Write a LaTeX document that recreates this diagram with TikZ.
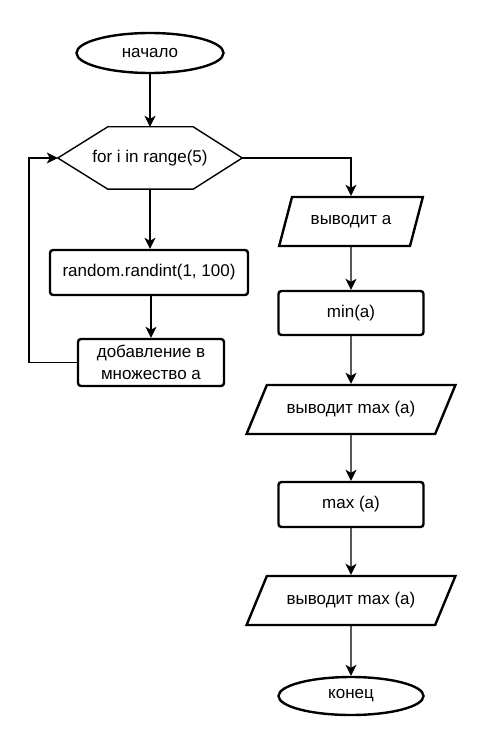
\documentclass[tikz,border=0pt]{standalone}
\usepackage{fontspec}
\setmainfont{Liberation Sans}
\usetikzlibrary{shapes.geometric,arrows.meta,calc}
\begin{document}
\begin{tikzpicture}[x=1pt,y=-1pt,
  every node/.style={font=\fontsize{17}{21.5}\selectfont, inner sep=0pt, align=center},
  term/.style={draw, line width=2.4pt, ellipse, minimum width=147pt, minimum height=40pt},
  proc/.style={draw, line width=2.4pt, rounded corners=3pt, minimum width=#1, minimum height=45pt},
  io/.style={draw, line width=2.4pt, trapezium, trapezium stretches=true,
     trapezium left angle=#1, trapezium right angle=180-#1, minimum height=49pt},
  arr/.style={line width=1.3pt, -{Stealth[length=11pt,width=11pt,inset=3pt]}},
  hexline/.style={line width=1.4pt}
]
\useasboundingbox (0,0) rectangle (485,735);
\node[term] (start) at (150,53) {начало};
\node[minimum width=184pt, minimum height=62pt] (hex) at (150,158) {for i in range(5)};
\draw[hexline] (hex.west) -- ($(hex.north west)+(50,0)$) -- ($(hex.north east)+(-49,0)$)
   -- (hex.east) -- ($(hex.south east)+(-49,0)$) -- ($(hex.south west)+(50,0)$) -- cycle;
\node[proc=198pt] (rand) at (149,272.5) {random.randint(1, 100)};
\node[proc=146pt, minimum height=47pt] (add) at (151,362.5) {добавление в\\множество а};

\node[io=55, minimum width=145pt] (out1) at (351,221.5) {выводит а};
\node[proc=145pt, minimum height=44pt] (min) at (351,313) {min(a)};
\node[io=45.6, minimum width=209pt] (out2) at (351,409.5) {выводит max (a)};
\node[proc=145pt] (max) at (351,504.5) {max (a)};
\node[io=45.6, minimum width=209pt] (out3) at (351,600.5) {выводит max (a)};
\node[term, minimum width=145pt, minimum height=38pt] (end) at (351,696) {конец};

\coordinate (lp) at (29,158);
\draw[arr] (start.south) -- (hex.south |- start.south) -- (hex.north);
\draw[arr] (hex.south) -- (rand.north -| hex.south);
\draw[arr] (rand.south -| add.north) -- (add.north);
\draw[arr] (add.west) -| (lp) -- (hex.west);
\draw[arr] (hex.east) -| (out1.north);
\draw[arr] (out1.south) -- (min.north);
\draw[arr] (min.south) -- (out2.north);
\draw[arr] (out2.south) -- (max.north);
\draw[arr] (max.south) -- (out3.north);
\draw[arr] (out3.south) -- (end.north);
\end{tikzpicture}
\end{document}
